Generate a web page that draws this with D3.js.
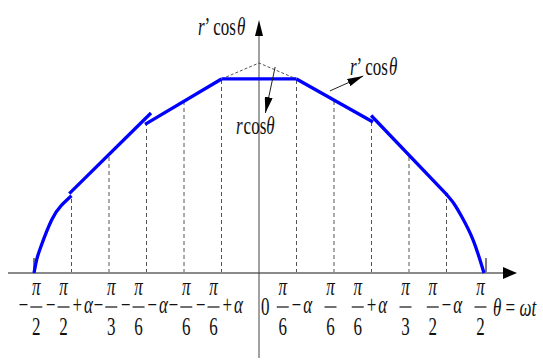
<!DOCTYPE html>
<html>
<head>
<meta charset="utf-8">
<script src="https://cdn.jsdelivr.net/npm/d3@7"></script>
<style>
  body { margin: 0; background: #fff; }
</style>
</head>
<body>
<svg width="543" height="360"></svg>
<script>
// tick positions (drawn evenly spaced) and their labels
var tickIdx    = [-6, -5, -4, -3, -2, -1, 1, 2, 3, 4, 5, 6];
var tickSign   = ["−", "−", "−", "−", "−", "−", "", "", "", "", "", ""];
var tickDen    = ["2", "2", "3", "6", "6", "6", "6", "6", "6", "3", "2", "2"];
var tickSuffix = ["", "+α", "", "−α", "", "+α", "−α", "", "+α", "", "−α", ""];

// height of the dashed guide at each inner tick
var guideIdx = [-5, -4, -3, -2, -1, 1, 2, 3, 4, 5];
var guideVal = [0.367, 0.56, 0.71, 0.82, 0.924, 0.924, 0.824, 0.72, 0.555, 0.371];

// r' cos(theta) pieces
var arcLeft  = [[-6, 0], [-5.93, 0.062], [-5.82, 0.124], [-5.53, 0.252], [-5.27, 0.322], [-5.0, 0.368]];
var segA     = [[-5.06, 0.378], [-2.88, 0.762]];
var segB     = [[-3.04, 0.708], [-1, 0.924]];
var flatTop  = [[-1, 0.924], [1, 0.924]];
var segC     = [[1, 0.924], [3.04, 0.719]];
var segD     = [[2.99, 0.75], [5.02, 0.371]];
var arcRight = [[4.99, 0.376], [5.2, 0.33], [5.4, 0.27], [5.71, 0.157], [6, 0]];

// r cos(theta) peak (dashed)
var peak = [[-1, 0.924], [0, 1], [1, 0.924]];

var svg = d3.select('svg')
    .attr('font-family', '"Liberation Serif", "DejaVu Serif", serif');

var x = d3.scaleLinear().domain([-6, 6]).range([34, 484]);
var y = d3.scaleLinear().domain([0, 1]).range([273, 63]);

var SY = 1.45;  // the original figure is stretched vertically

var defs = svg.append('defs');
defs.append('marker')
    .attr('id', 'head')
    .attr('viewBox', '0 0 16 8')
    .attr('refX', 16).attr('refY', 4)
    .attr('markerWidth', 16).attr('markerHeight', 8)
    .attr('markerUnits', 'userSpaceOnUse')
    .attr('orient', 'auto')
    .append('path').attr('d', 'M0,0 L16,4 L0,8 Z').attr('fill', '#000');

// dashed guides
svg.selectAll('.guide')
    .data(guideIdx)
    .enter()
    .append('line')
    .attr('class', 'guide')
    .attr('x1', function(d){ return x(d); })
    .attr('x2', function(d){ return x(d); })
    .attr('y1', y(0))
    .attr('y2', function(d, i){ return y(guideVal[i]); })
    .attr('stroke', '#555')
    .attr('stroke-width', 1)
    .attr('stroke-dasharray', '4,3');

// small solid ticks at the ends
svg.selectAll('.endtick')
    .data([-6, 6])
    .enter()
    .append('line')
    .attr('x1', function(d){ return x(d) + (d > 0 ? 2 : 0); })
    .attr('x2', function(d){ return x(d) + (d > 0 ? 2 : 0); })
    .attr('y1', y(0))
    .attr('y2', y(0) - 15)
    .attr('stroke', '#333')
    .attr('stroke-width', 1.3);

var lineFn = d3.line()
    .x(function(d){ return x(d[0]); })
    .y(function(d){ return y(d[1]); });

svg.append('path')
    .attr('d', lineFn(peak))
    .attr('fill', 'none')
    .attr('stroke', '#555')
    .attr('stroke-width', 1)
    .attr('stroke-dasharray', '3,2');

// x axis
svg.append('line')
    .attr('x1', 8).attr('x2', 508)
    .attr('y1', y(0)).attr('y2', y(0))
    .attr('stroke', '#8a8a8a').attr('stroke-width', 2);
svg.append('path')
    .attr('d', 'M503,' + (y(0) - 6) + ' L517,' + y(0) + ' L503,' + (y(0) + 6) + ' Z')
    .attr('fill', '#000');

// y axis
svg.append('line')
    .attr('x1', x(0)).attr('x2', x(0))
    .attr('y1', 358).attr('y2', 30)
    .attr('stroke', '#444').attr('stroke-width', 1);
svg.append('path')
    .attr('d', 'M' + (x(0) - 4) + ',36 L' + x(0) + ',20 L' + (x(0) + 4) + ',36 Z')
    .attr('fill', '#000');

// blue curve pieces: the two end arcs are smooth, the rest straight
var smooth = d3.line()
    .x(function(d){ return x(d[0]); })
    .y(function(d){ return y(d[1]); })
    .curve(d3.curveNatural);

[arcLeft, arcRight].forEach(function(seg){
    svg.append('path')
        .attr('d', smooth(seg))
        .attr('fill', 'none')
        .attr('stroke', '#0000ff')
        .attr('stroke-width', 3.3);
});
[segA, segB, flatTop, segC, segD].forEach(function(seg){
    svg.append('path')
        .attr('d', lineFn(seg))
        .attr('fill', 'none')
        .attr('stroke', '#0000ff')
        .attr('stroke-width', 3.3);
});

// annotation arrows
svg.append('line')
    .attr('x1', x(0.43)).attr('y1', y(0.981))
    .attr('x2', x(0.17)).attr('y2', y(0.762))
    .attr('stroke', '#222').attr('stroke-width', 1)
    .attr('marker-end', 'url(#head)');
svg.append('line')
    .attr('x1', x(1.89)).attr('y1', y(0.867))
    .attr('x2', x(2.78)).attr('y2', y(0.938))
    .attr('stroke', '#222').attr('stroke-width', 1)
    .attr('marker-end', 'url(#head)');

// math text helper
function mtext(parent, px, py, parts, size) {
    var t = parent.append('text')
        .attr('transform', 'translate(' + px + ',' + py + ') scale(1,' + SY + ')')
        .attr('font-family', '"Liberation Serif", "DejaVu Serif", serif')
        .attr('font-size', size || 17)
        .attr('fill', '#111');
    parts.forEach(function(p){
        t.append('tspan')
            .attr('font-style', p[1] ? 'italic' : 'normal')
            .attr('dx', p[2] || 0)
            .text(p[0]);
    });
    return t;
}

mtext(svg, 198, 35, [['r', 1], ['’ cos', 0], ['θ', 1, 1]]);
mtext(svg, 350, 75, [['r', 1], ['’ cos', 0], ['θ', 1, 1]]);
mtext(svg, 236, 134, [['r', 1], ['cos', 0, 1], ['θ', 1]]);
mtext(svg, 493, 316, [['θ', 1], [' = ', 0], ['ω', 1], ['t', 1]]);
mtext(svg, 261, 315, [['0', 0]]);

// tick labels: sign, stacked fraction, suffix
tickIdx.forEach(function(d, i){
    var g = svg.append('g');
    var cx = 0;
    if (tickSign[i]) {
        var s = mtext(g, cx, 313, [[tickSign[i], 0]]);
        cx += s.node().getComputedTextLength() + 2;
    }
    var fw = 12;
    mtext(g, cx + fw / 2, 295, [['π', 1]]).attr('text-anchor', 'middle');
    g.append('line')
        .attr('x1', cx).attr('x2', cx + fw)
        .attr('y1', 307).attr('y2', 307)
        .attr('stroke', '#111').attr('stroke-width', 1.2);
    mtext(g, cx + fw / 2, 335, [[tickDen[i], 0]]).attr('text-anchor', 'middle');
    cx += fw + 3;
    if (tickSuffix[i]) {
        var op = mtext(g, cx, 313, [[tickSuffix[i][0], 0]]);
        cx += op.node().getComputedTextLength() + 2;
        var a = mtext(g, cx, 313, [['α', 1]]);
        cx += a.node().getComputedTextLength();
    }
    // the original labels sit a little left of their ticks
    g.attr('transform', 'translate(' + (x(d) - cx / 2 - 2) + ',0)');
});
</script>
</body>
</html>
